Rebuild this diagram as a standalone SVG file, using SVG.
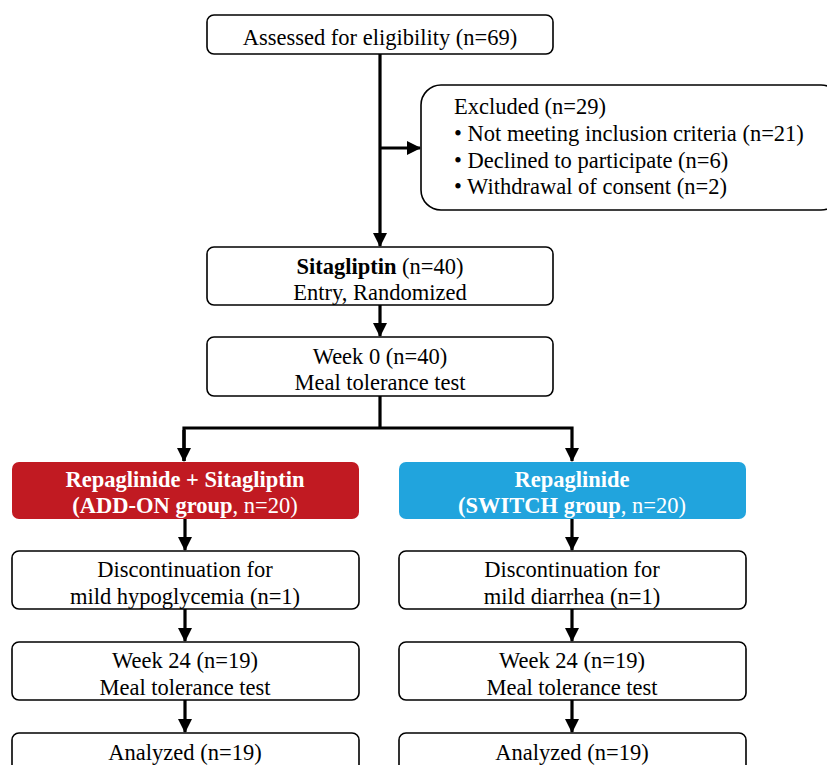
<svg xmlns="http://www.w3.org/2000/svg" width="827" height="765" viewBox="0 0 827 765">
<style>
.box{fill:#fff;stroke:#000;stroke-width:1.6}
.t{font-family:"Liberation Serif","Times New Roman",serif;font-size:22.5px;fill:#000}
.c{text-anchor:middle}
.w{fill:#fff}
.b{font-weight:bold}
.ln{fill:none;stroke:#000;stroke-width:3.2}
</style>
<defs>
<marker id="ah" markerWidth="15" markerHeight="14" refX="13" refY="7" orient="auto" markerUnits="userSpaceOnUse">
<path d="M0,0 L14,7 L0,14 Z" fill="#000"/>
</marker>
</defs>
<rect width="827" height="765" fill="#fff"/>
<g id="connectors">
<path class="ln" d="M380,54 V246" marker-end="url(#ah)"/>
<path class="ln" d="M380,148 H420" marker-end="url(#ah)"/>
<path class="ln" d="M380,305 V336" marker-end="url(#ah)"/>
<path class="ln" d="M380,396 V428"/>
<path class="ln" d="M184,461 V428 H572 V461" marker-end="url(#ah)"/>
<path class="ln" d="M184,430 V461" marker-end="url(#ah)"/>
<path class="ln" d="M185,519 V550" marker-end="url(#ah)"/>
<path class="ln" d="M572,519 V550" marker-end="url(#ah)"/>
<path class="ln" d="M185,609 V641" marker-end="url(#ah)"/>
<path class="ln" d="M572,609 V641" marker-end="url(#ah)"/>
<path class="ln" d="M185,700 V732" marker-end="url(#ah)"/>
<path class="ln" d="M572,700 V732" marker-end="url(#ah)"/>
</g>
<g id="assessed">
<rect class="box" x="207" y="15" width="346" height="39" rx="7"/>
<text class="t c" x="380" y="45">Assessed for eligibility (n=69)</text>
</g>
<g id="excluded">
<rect class="box" x="421" y="85" width="420" height="125" rx="20"/>
<text class="t" x="454" y="114">Excluded (n=29)</text>
<text class="t" x="454" y="141">• Not meeting inclusion criteria (n=21)</text>
<text class="t" x="454" y="168">• Declined to participate (n=6)</text>
<text class="t" x="454" y="194">• Withdrawal of consent (n=2)</text>
</g>
<g id="sitagliptin">
<rect class="box" x="207" y="247" width="346" height="58" rx="7"/>
<text class="t c" x="380" y="274"><tspan class="b">Sitagliptin</tspan> (n=40)</text>
<text class="t c" x="380" y="300">Entry, Randomized</text>
</g>
<g id="week0">
<rect class="box" x="207" y="337" width="346" height="59" rx="7"/>
<text class="t c" x="380" y="364">Week 0 (n=40)</text>
<text class="t c" x="380" y="390">Meal tolerance test</text>
</g>
<g id="addon">
<rect x="12" y="462" width="347" height="57" rx="7" fill="#C11A22"/>
<text class="t c w b" x="185" y="487">Repaglinide + Sitagliptin</text>
<text class="t c w" x="185" y="513"><tspan class="b">(ADD-ON group</tspan>, n=20)</text>
</g>
<g id="switch">
<rect x="399" y="462" width="347" height="57" rx="7" fill="#21A4DD"/>
<text class="t c w b" x="572" y="487">Repaglinide</text>
<text class="t c w" x="572" y="513"><tspan class="b">(SWITCH group</tspan>, n=20)</text>
</g>
<g id="disc-left">
<rect class="box" x="12" y="551" width="347" height="58" rx="7"/>
<text class="t c" x="185" y="577">Discontinuation for</text>
<text class="t c" x="185" y="604">mild hypoglycemia (n=1)</text>
</g>
<g id="disc-right">
<rect class="box" x="399" y="551" width="347" height="58" rx="7"/>
<text class="t c" x="572" y="577">Discontinuation for</text>
<text class="t c" x="572" y="604">mild diarrhea (n=1)</text>
</g>
<g id="wk24-left">
<rect class="box" x="12" y="642" width="347" height="58" rx="7"/>
<text class="t c" x="185" y="668">Week 24 (n=19)</text>
<text class="t c" x="185" y="695">Meal tolerance test</text>
</g>
<g id="wk24-right">
<rect class="box" x="399" y="642" width="347" height="58" rx="7"/>
<text class="t c" x="572" y="668">Week 24 (n=19)</text>
<text class="t c" x="572" y="695">Meal tolerance test</text>
</g>
<g id="analyzed-left">
<rect class="box" x="12" y="733" width="347" height="58" rx="7"/>
<text class="t c" x="185" y="760">Analyzed (n=19)</text>
</g>
<g id="analyzed-right">
<rect class="box" x="399" y="733" width="347" height="58" rx="7"/>
<text class="t c" x="572" y="760">Analyzed (n=19)</text>
</g>
</svg>
